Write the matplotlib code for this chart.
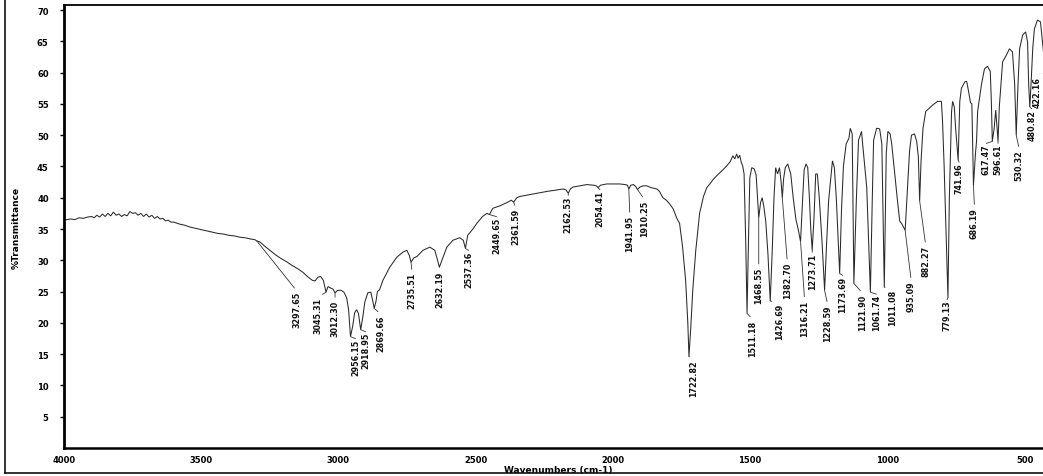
import matplotlib
matplotlib.use("Agg")
import matplotlib.pyplot as plt
from matplotlib.lines import Line2D
import numpy as np

# ---------------- FT-IR trace (wavenumber in cm-1, % transmittance) ----------------
trace_wn = [4000, 3990, 3975, 3960, 3945, 3930, 3915, 3900, 3890, 3880, 3870, 3860, 3850,
            3840, 3830, 3820, 3810, 3800, 3790, 3780, 3770, 3760, 3750, 3740, 3730, 3720,
            3710, 3700, 3690, 3680, 3670, 3660, 3650, 3640, 3630, 3620, 3610, 3600, 3580,
            3560, 3540, 3520, 3500, 3480, 3460, 3440, 3420, 3400, 3380, 3360, 3340, 3320,
            3305, 3285, 3270, 3250, 3230, 3210, 3190, 3170, 3150, 3130, 3110, 3095, 3085,
            3075, 3065, 3055, 3038, 3030, 3020, 3003, 2990, 2980, 2970, 2963, 2948, 2941,
            2934, 2927, 2911, 2904, 2893, 2882, 2875, 2863, 2858, 2850, 2838, 2813, 2787,
            2765, 2751, 2742, 2725, 2714, 2692, 2667, 2649, 2640, 2623, 2605, 2583, 2558,
            2545, 2529, 2510, 2496, 2475, 2459, 2438, 2412, 2387, 2370, 2350, 2339, 2315,
            2292, 2265, 2241, 2210, 2180, 2170, 2155, 2146, 2120, 2095, 2070, 2060, 2045,
            2022, 2000, 1975, 1955, 1947, 1935, 1925, 1917, 1902, 1890, 1877, 1860, 1840,
            1830, 1818, 1805, 1793, 1780, 1767, 1757, 1746, 1735, 1727, 1716, 1709, 1698,
            1684, 1670, 1658, 1645, 1635, 1622, 1610, 1598, 1585, 1572, 1563, 1556, 1549,
            1544, 1538, 1532, 1527, 1522, 1516, 1506, 1501, 1494, 1485, 1478, 1474, 1462,
            1456, 1450, 1443, 1435, 1419, 1413, 1407, 1400, 1393, 1387, 1378, 1372, 1363,
            1352, 1343, 1333, 1325, 1309, 1303, 1296, 1290, 1284, 1279, 1267, 1261, 1255,
            1248, 1238, 1222, 1214, 1200, 1193, 1186, 1180, 1167, 1160, 1150, 1140, 1135,
            1128, 1113, 1105, 1094, 1090, 1083, 1075, 1069, 1055, 1050, 1039, 1028, 1020,
            1004, 998, 990, 984, 973, 963, 955, 947, 926, 919, 912, 901, 893, 887, 877,
            870, 860, 850, 835, 817, 803, 799, 793, 774, 766, 762, 756, 751, 736, 730, 718,
            711, 704, 697, 692, 679, 675, 671, 657, 646, 635, 625, 621, 611, 605, 592, 586,
            580, 565, 555, 544, 536, 524, 518, 507, 496, 489, 485, 476, 470, 464, 453, 442,
            435, 428, 416, 408, 400]
trace_t = [36.4, 36.5, 36.6, 36.5, 36.8, 36.7, 36.9, 37.0, 36.8, 37.2, 36.9, 37.4, 37.0,
           37.5, 37.1, 37.7, 37.2, 37.4, 37.0, 37.3, 37.1, 37.8, 37.5, 37.6, 37.2, 37.5,
           37.0, 37.4, 36.9, 37.2, 36.7, 37.0, 36.6, 36.7, 36.3, 36.4, 36.1, 36.1, 35.8,
           35.6, 35.3, 35.1, 34.9, 34.7, 34.5, 34.3, 34.2, 34.0, 33.9, 33.7, 33.6, 33.4,
           33.3, 32.9, 32.3, 31.6, 30.9, 30.3, 29.8, 29.2, 28.7, 28.1, 27.3, 26.8, 26.7,
           27.3, 27.4, 26.8, 25.8, 25.6, 25.4, 25.2, 25.2, 24.9, 24.0, 22.1, 19.5, 21.6,
           22.1, 21.5, 21.0, 23.3, 24.8, 24.9, 23.5, 23.5, 25.0, 25.3, 26.8, 28.9, 30.5,
           31.3, 31.6, 30.8, 30.4, 30.6, 31.6, 32.1, 31.6, 30.2, 30.0, 32.1, 33.2, 33.6,
           33.2, 34.0, 35.0, 35.9, 37.0, 37.5, 38.3, 38.7, 39.2, 39.6, 40.0, 40.2, 40.4,
           40.6, 40.8, 41.0, 41.2, 41.4, 41.2, 41.4, 41.7, 41.9, 42.1, 42.0, 41.9, 42.0,
           42.2, 42.2, 42.2, 42.1, 42.0, 42.0, 42.1, 41.8, 41.7, 41.9, 41.9, 41.6, 41.4,
           41.0, 40.0, 39.6, 39.0, 38.2, 36.7, 35.9, 32.1, 26.8, 20.0, 19.4, 25.2, 31.6,
           37.5, 40.2, 41.6, 42.3, 42.9, 43.5, 44.0, 44.5, 45.1, 45.8, 46.7, 46.2, 47.0,
           46.3, 46.8, 45.6, 45.1, 43.8, 33.0, 33.0, 43.2, 44.8, 44.6, 43.6, 40.6, 39.2,
           40.0, 38.6, 36.2, 31.0, 32.0, 40.0, 44.8, 43.8, 44.8, 42.5, 43.0, 44.8, 45.4,
           43.8, 40.0, 36.5, 35.0, 39.5, 44.5, 45.4, 44.8, 40.0, 35.0, 37.0, 43.8, 43.8,
           40.0, 33.0, 32.0, 39.5, 45.9, 44.8, 40.0, 34.0, 38.0, 45.0, 48.6, 49.5, 51.1,
           50.2, 39.5, 49.2, 50.6, 48.6, 45.4, 41.6, 34.0, 39.5, 49.2, 51.1, 51.0, 48.6,
           47.0, 50.6, 50.2, 48.6, 43.8, 39.5, 36.3, 35.8, 42.0, 47.5, 50.0, 50.2, 49.0,
           46.5, 46.0, 51.1, 53.8, 54.2, 54.8, 55.4, 55.4, 52.4, 45.0, 40.0, 53.8, 55.4,
           54.5, 51.0, 55.4, 57.5, 58.5, 58.6, 57.0, 55.2, 55.0, 47.0, 49.0, 53.8, 58.1,
           60.6, 61.0, 60.2, 55.4, 51.0, 54.0, 54.5, 58.1, 61.7, 62.9, 63.8, 63.3, 58.1,
           58.0, 63.8, 66.0, 66.5, 64.9, 58.1, 58.5, 64.0, 67.0, 68.4, 68.1, 65.0, 62.0,
           64.0, 67.0, 68.0]

# ---------------- labelled bands (position cm-1, %T at the band minimum) ----------------
peak_wn = [3297.65, 3045.31, 3012.30, 2956.15, 2918.95, 2869.66, 2735.51, 2632.19,
           2537.36, 2449.65, 2361.59, 2162.53, 2054.41, 1941.95, 1910.25, 1722.82,
           1511.18, 1468.55, 1426.69, 1382.70, 1316.21, 1273.71, 1228.59, 1173.69,
           1121.90, 1061.74, 1011.08, 935.09, 882.27, 779.13, 741.96, 686.19,
           617.47, 596.61, 530.32, 480.82, 422.16]
peak_t = [33.1, 24.9, 24.8, 17.8, 18.9, 22.3, 29.7, 28.9,
          31.9, 37.3, 39.3, 40.7, 41.6, 41.4, 41.3, 14.6,
          21.5, 36.8, 23.5, 40.0, 33.0, 31.6, 25.2, 27.9,
          26.3, 24.9, 25.7, 34.8, 39.5, 24.0, 46.0, 42.0,
          49.0, 49.0, 50.0, 54.5, 60.0]

x_ticks = [4000, 3500, 3000, 2500, 2000, 1500, 1000, 500]
y_ticks = [5, 10, 15, 20, 25, 30, 35, 40, 45, 50, 55, 60, 65, 70]

# label layout in pixels: sideways nudge and drop below each band
label_dx = [40, -8, 0, 5, 5, 7, 1, 0, 3, 7, 2, 0, 2, 1, 7, 5,
            6, 0, 9, 5, 4, 0, 3, 3, 9, 6, 8, 6, 6, -1, 1, 1,
            -6, 0, 3, 2, -9]
label_drop = [50, 5, 7, 2, 2, 6, 10, 3, 2, 2, 6, 2, 2, 26, 10, 3,
              6, 49, 2, 64, 58, 2, 14, 2, 10, 2, 2, 50, 44, 2, 2, 22,
              2, 2, 14, 2, 4]

W, H = 1043, 477
fig = plt.figure(figsize=(W / 100, H / 100), dpi=100)
fig.patch.set_facecolor("white")
ax = fig.add_axes([64 / W, 28 / H, (1052 - 64) / W, 443 / H])

narrow = ["Liberation Sans Narrow", "DejaVu Sans"]

wn = np.array(trace_wn + peak_wn, dtype=float)
tt = np.array(trace_t + peak_t, dtype=float)
order = np.argsort(-wn)
ax.plot(wn[order], tt[order], color="#2a2a2a", lw=0.75, solid_joinstyle="miter")

for w, t, dx, dr in zip(peak_wn, peak_t, label_dx, label_drop):
    ax.annotate(f"{w:.2f}", xy=(w, t), xytext=(dx, -dr), textcoords="offset pixels",
                rotation=90, ha="center", va="top", fontsize=5.8,
                family=narrow, fontweight="bold", color="#111",
                arrowprops=dict(arrowstyle="-", lw=0.6, color="#333",
                                shrinkA=0, shrinkB=0, relpos=(0.5, 1.0)))

ax.set_xlim(4000, 400)
ax.set_ylim(0, 70.8)
ax.set_xticks(x_ticks)
ax.set_xticklabels([str(v) for v in x_ticks], family=narrow, fontweight="bold", fontsize=6)
ax.set_yticks(y_ticks)
ax.set_yticklabels([str(v) for v in y_ticks], family=narrow, fontweight="bold", fontsize=6)
ax.tick_params(axis="y", direction="out", length=3, width=1, pad=8)
ax.tick_params(axis="x", direction="out", length=0, pad=5)

ax.spines["left"].set_linewidth(2.0)
ax.spines["bottom"].set_linewidth(1.8)
ax.spines["top"].set_linewidth(1.3)
ax.spines["right"].set_visible(False)

ax.set_xlabel("Wavenumbers (cm-1)", family=narrow, fontweight="bold", fontsize=6.5, labelpad=1)
ax.set_ylabel("%Transmittance", family=narrow, fontweight="bold", fontsize=6.5, labelpad=12)

# outer frame (left and bottom edges)
fig.add_artist(Line2D([5 / W, 5 / W], [3 / H, 1.0], color="#111", lw=1.2))
fig.add_artist(Line2D([5 / W, 1.0], [3 / H, 3 / H], color="#111", lw=1.2))

fig.savefig("out.png", dpi=100)
